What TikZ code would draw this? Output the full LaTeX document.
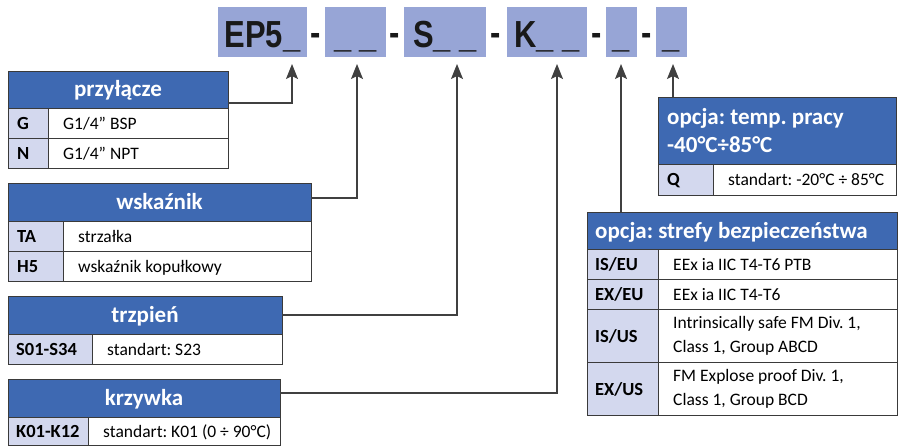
\documentclass[tikz,border=0pt]{standalone}
\usepackage{fontspec}
\setmainfont{Carlito}
\newfontfamily\topfont[FakeStretch=0.82]{Liberation Sans}
\usetikzlibrary{arrows.meta}
\definecolor{hdrblue}{HTML}{3E69B2}
\definecolor{keyfill}{HTML}{D3D8EE}
\definecolor{topfill}{HTML}{97A5D6}
\definecolor{edgecol}{HTML}{3A3A3A}
\definecolor{wire}{HTML}{404040}
% table cell: name x y w h style pad text  (text node is <name>t)
\newcommand\tcell[8]{%
  \node[#6, anchor=north west, inner sep=0pt, outer sep=0pt,
        minimum width=#4pt, minimum height=#5pt] (#1) at (#2,#3) {};
  \node[#6 text, anchor=west, inner sep=0pt, align=left] (#1t) at ([xshift=#7pt]#1.west) {#8};}
% centred header cell: name x y w h style text
\newcommand\hcell[7]{%
  \node[#6, anchor=north west, inner sep=0pt, outer sep=0pt,
        minimum width=#4pt, minimum height=#5pt] (#1) at (#2,#3) {};
  \node[#6 text, inner sep=0pt, align=center] (#1t) at (#1.center) {#7};}
\begin{document}
\frenchspacing
\begin{tikzpicture}[x=1pt,y=-1pt,
  hdr/.style={draw=edgecol, fill=hdrblue, line width=0.9pt},
  hdr text/.style={text=white, font=\frenchspacing\bfseries\fontsize{23}{28}\selectfont,
    text height=15pt, text depth=0pt},
  hdrtwo/.style={hdr},
  hdrtwo text/.style={text=white, font=\frenchspacing\bfseries\fontsize{23}{28}\selectfont},
  keycell/.style={draw=edgecol, fill=keyfill, line width=0.9pt},
  keycell text/.style={font=\bfseries\fontsize{18.5}{24}\selectfont, text height=13pt, text depth=0pt},
  valcell/.style={draw=edgecol, fill=white, line width=0.9pt},
  valcell text/.style={font=\frenchspacing\fontsize{17.5}{24}\selectfont, text height=13pt, text depth=0pt},
  valtwo/.style={valcell},
  valtwo text/.style={font=\frenchspacing\fontsize{17.5}{24}\selectfont},
  topblk/.style={fill=topfill, inner sep=0pt, minimum height=50pt,
    font=\topfont\bfseries\fontsize{37.7}{40}\selectfont, text=black!90,
    text height=32pt, text depth=0pt},
  sepdash/.style={inner sep=0pt, anchor=base,
    font=\topfont\bfseries\fontsize{37.7}{40}\selectfont, text=black!90},
  conn/.style={draw=wire, line width=1.3pt},
  arr/.style={conn, -{Stealth[length=15pt, width=12pt, inset=3pt]}}
]
\useasboundingbox (0,0) rectangle (901,446);

% top code blocks
\node[topblk, minimum width=89pt] (b1) at (262.5,32) {EP5\_};
\node[topblk, minimum width=61pt] (b2) at (355.5,32) {\_ \_};
\node[topblk, minimum width=82pt] (b3) at (445,32) {S\_ \_};
\node[topblk, minimum width=80pt] (b4) at (547,32) {K\_ \_};
\node[topblk, minimum width=31pt] (b5) at (621.5,32) {\_};
\node[topblk, minimum width=31pt] (b6) at (671.5,32) {\_};
\node[sepdash] (d1) at (315.5,46) {-};
\node[sepdash] (d2) at (395,46) {-};
\node[sepdash] (d3) at (496,46) {-};
\node[sepdash] (d4) at (597,46) {-};
\node[sepdash] (d5) at (647,46) {-};

% arrow tips
\coordinate (t1) at (292,64);
\coordinate (t2) at (357,64);
\coordinate (t3) at (457,64);
\coordinate (t4) at (557,64);
\coordinate (t5) at (621,64);
\coordinate (t6) at (673,64);

% przylacze
\hcell{h1}{8}{71}{220}{37}{hdr}{przyłącze}
\tcell{k1a}{8}{108}{40}{30}{keycell}{9}{G}
\tcell{v1a}{48}{108}{180}{30}{valcell}{15}{G1/4” BSP}
\tcell{k1b}{8}{138}{40}{30}{keycell}{9}{N}
\tcell{v1b}{48}{138}{180}{30}{valcell}{15}{G1/4” NPT}

% wskaznik
\hcell{h2}{8}{183}{303}{38}{hdr}{wskaźnik}
\tcell{k2a}{8}{221}{55}{30}{keycell}{9}{TA}
\tcell{v2a}{63}{221}{248}{30}{valcell}{15}{strzałka}
\tcell{k2b}{8}{251}{55}{30}{keycell}{9}{H5}
\tcell{v2b}{63}{251}{248}{30}{valcell}{15}{wskaźnik kopułkowy}

% trzpien
\hcell{h3}{8}{296}{274}{38}{hdr}{trzpień}
\tcell{k3a}{8}{334}{84}{30}{keycell}{8}{S01-S34}
\tcell{v3a}{92}{334}{190}{30}{valcell}{15}{standart: S23}

% krzywka
\hcell{h4}{8}{379}{272}{38}{hdr}{krzywka}
\tcell{k4a}{8}{417}{80}{28}{keycell}{8}{K01-K12}
\tcell{v4a}{88}{417}{192}{28}{valcell}{15}{standart: K01 (0 ÷ 90°C)}

% temp
\tcell{h5}{658}{97}{238}{67}{hdrtwo}{9}{opcja: temp. pracy\\-40°C÷85°C}
\tcell{k5a}{658}{164}{55}{31}{keycell}{9}{Q}
\tcell{v5a}{713}{164}{183}{31}{valcell}{15}{standart: -20°C ÷ 85°C}

% strefy
\tcell{h6}{587}{212}{310}{37}{hdr}{8}{opcja: strefy bezpieczeństwa}
\tcell{k6a}{587}{249}{71}{30}{keycell}{8}{IS/EU}
\tcell{v6a}{658}{249}{239}{30}{valcell}{15}{EEx ia IIC T4-T6 PTB}
\tcell{k6b}{587}{279}{71}{30}{keycell}{8}{EX/EU}
\tcell{v6b}{658}{279}{239}{30}{valcell}{15}{EEx ia IIC T4-T6}
\tcell{k6c}{587}{309}{71}{53}{keycell}{8}{IS/US}
\tcell{v6c}{658}{309}{239}{53}{valtwo}{15}{Intrinsically safe FM Div. 1,\\Class 1, Group ABCD}
\tcell{k6d}{587}{362}{71}{53}{keycell}{8}{EX/US}
\tcell{v6d}{658}{362}{239}{53}{valtwo}{15}{FM Explose proof Div. 1,\\Class 1, Group BCD}

% connectors
\draw[arr] (h1.east |- 0,103) -| (t1);
\draw[arr] (h2.east |- 0,198) -| (t2);
\draw[arr] (h3.east) -| (t3);
\draw[arr] (h4.east |- 0,393) -| (t4);
\draw[arr] (h6.north -| t5) -- (t5);
\draw[arr] (h5.north -| t6) -- (t6);
\end{tikzpicture}
\end{document}
